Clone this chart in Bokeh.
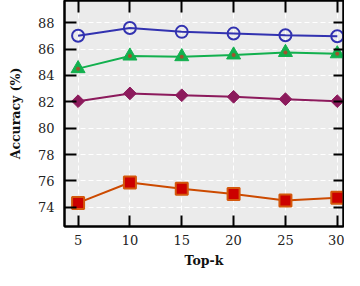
from bokeh.plotting import figure
from bokeh.models import FixedTicker, LinearAxis, Range1d
from bokeh.embed import file_html
from bokeh.resources import INLINE
import math

top_k = [5, 10, 15, 20, 25, 30]
acc_blue = [87.02, 87.6, 87.31, 87.18, 87.05, 86.98]
acc_green = [84.52, 85.48, 85.43, 85.56, 85.75, 85.65]
acc_purple = [82.05, 82.64, 82.5, 82.38, 82.2, 82.05]
acc_red = [74.33, 75.88, 75.4, 75.0, 74.52, 74.73]

x_ticks = [5, 10, 15, 20, 25, 30]
y_ticks = [74, 76, 78, 80, 82, 84, 86, 88]

FONT = "DejaVu Serif"
X0, X1 = 3.69, 30.6
Y0, Y1 = 72.54, 89.69

p = figure(width=344, height=270, output_backend="svg", toolbar_location=None,
           x_range=Range1d(X0, X1), y_range=Range1d(Y0, Y1),
           min_border_left=64, min_border_right=1, min_border_top=0, min_border_bottom=0)

p.background_fill_color = "#EBEBEB"
p.border_fill_color = "white"
p.outline_line_color = "black"
p.outline_line_width = 2

for ax in (p.xaxis[0], p.yaxis[0]):
    ax.major_tick_in = 11
    ax.major_tick_out = 0
    ax.minor_tick_in = 0
    ax.minor_tick_out = 0
    ax.major_tick_line_width = 2
    ax.axis_line_width = 2
    ax.major_label_text_font = FONT
    ax.major_label_text_font_size = "13px"
    ax.major_label_text_color = "#222222"
    ax.axis_label_text_font = FONT
    ax.axis_label_text_font_style = "bold"
    ax.axis_label_text_font_size = "12.5px"
    ax.axis_label_text_color = "#111111"

p.xaxis[0].ticker = FixedTicker(ticks=x_ticks)
p.yaxis[0].ticker = FixedTicker(ticks=y_ticks)
p.xaxis[0].axis_label = "Top-k"
p.yaxis[0].axis_label = "Accuracy (%)"
p.xaxis[0].major_label_standoff = 8
p.yaxis[0].major_label_standoff = 10
p.xaxis[0].axis_label_standoff = 5
p.yaxis[0].axis_label_standoff = 12
p.yaxis[0].major_tick_in = 12

top_ax = LinearAxis(ticker=FixedTicker(ticks=x_ticks), major_tick_in=12, major_tick_out=0,
                    minor_tick_in=0, minor_tick_out=0, major_tick_line_width=2,
                    axis_line_width=2, major_label_text_font_size="0px",
                    major_label_standoff=0, major_label_text_alpha=0)
right_ax = LinearAxis(ticker=FixedTicker(ticks=y_ticks), major_tick_in=10, major_tick_out=0,
                      minor_tick_in=0, minor_tick_out=0, major_tick_line_width=2,
                      axis_line_width=2, major_label_text_font_size="0px",
                      major_label_standoff=0, major_label_text_alpha=0)
p.add_layout(top_ax, "above")
p.add_layout(right_ax, "right")

p.xgrid.ticker = FixedTicker(ticks=x_ticks)
p.ygrid.ticker = FixedTicker(ticks=y_ticks)
for g in (p.xgrid[0], p.ygrid[0]):
    g.grid_line_color = "white"
    g.grid_line_width = 1
    g.grid_line_dash = "5 3"

p.line(top_k, acc_blue, line_color="#3232B0", line_width=2)
p.scatter(top_k, acc_blue, marker="circle", size=12, fill_color=None,
          line_color="#3232B0", line_width=2)

p.line(top_k, acc_green, line_color="#12B04E", line_width=2)
p.scatter(top_k, acc_green, marker="triangle", size=14, fill_color="#12B04E",
          line_color="#12B04E", line_width=1)
p.scatter(top_k, acc_green, marker="circle", size=4, fill_color="#A0522D",
          line_color=None)

p.line(top_k, acc_purple, line_color="#8C1A5C", line_width=2)
p.scatter(top_k, acc_purple, marker="square", size=9, angle=math.pi / 4,
          fill_color="#8C1A5C", line_color="#8C1A5C", line_width=1)

p.line(top_k, acc_red, line_color="#CC4A00", line_width=2)
p.scatter(top_k, acc_red, marker="square", size=12, fill_color="#CC0000",
          line_color="#D4580C", line_width=2)

open("out.html", "w").write(file_html(p, INLINE))
